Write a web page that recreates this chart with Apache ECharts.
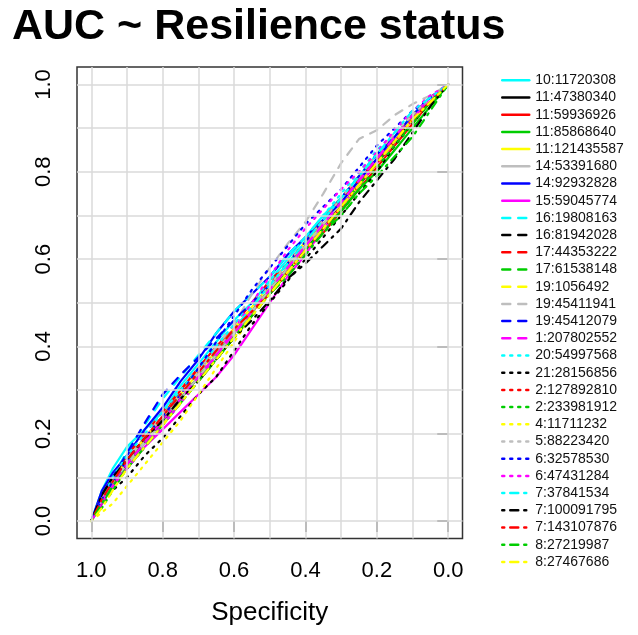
<!DOCTYPE html>
<html>
<head>
<meta charset="utf-8">
<script src="https://cdn.jsdelivr.net/npm/echarts@6/dist/echarts.min.js"></script>
<style>
html,body{margin:0;padding:0;background:#fff;}
#chart{width:638px;height:635px;}
</style>
</head>
<body>
<div id="chart"></div>
<script>
// ---- data ----
const specificity = [1.0,0.97,0.94,0.9,0.85,0.8,0.75,0.7,0.65,0.6,0.55,0.5,0.45,0.4,0.35,0.3,0.25,0.2,0.15,0.1,0.05,0.0];
const markerNames = ["10:11720308","11:47380340","11:59936926","11:85868640","11:121435587","14:53391680","14:92932828","15:59045774",
  "16:19808163","16:81942028","17:44353222","17:61538148","19:1056492","19:45411941","19:45412079","1:207802552",
  "20:54997568","21:28156856","2:127892810","2:233981912","4:11711232","5:88223420","6:32578530","6:47431284",
  "7:37841534","7:100091795","7:143107876","8:27219987","8:27467686"];
const s01 = [0,.07,.12,.17,.21,.25,.31,.36,.41,.46,.50,.55,.60,.65,.70,.74,.79,.84,.88,.93,.97,1];
const s02 = [0,.06,.10,.14,.19,.23,.28,.33,.38,.43,.48,.53,.58,.63,.68,.72,.77,.82,.87,.92,.96,1];
const s03 = [0,.05,.09,.14,.19,.24,.30,.35,.40,.44,.48,.52,.57,.62,.66,.71,.76,.81,.86,.91,.96,1];
const s04 = [0,.04,.08,.13,.18,.23,.28,.33,.38,.43,.48,.53,.57,.62,.67,.71,.76,.80,.85,.90,.95,1];
const s05 = [0,.05,.09,.14,.19,.24,.29,.34,.39,.44,.49,.54,.59,.64,.68,.73,.78,.82,.87,.92,.96,1];
const s06 = [0,.05,.09,.13,.18,.23,.28,.33,.38,.43,.48,.53,.58,.63,.68,.73,.78,.83,.88,.93,.97,1];
const s07 = [0,.07,.11,.15,.21,.26,.32,.37,.43,.48,.52,.56,.61,.65,.69,.73,.78,.83,.88,.93,.97,1];
const s08 = [0,.05,.08,.12,.17,.21,.25,.29,.33,.38,.44,.50,.56,.61,.67,.72,.77,.82,.87,.92,.97,1];
const s09 = [0,.06,.10,.16,.22,.28,.33,.38,.43,.48,.52,.56,.61,.65,.70,.74,.79,.84,.88,.93,.97,1];
const s10 = [0,.05,.08,.13,.18,.23,.28,.32,.37,.42,.47,.52,.57,.62,.67,.72,.77,.82,.87,.92,.96,1];
const s11 = [0,.06,.10,.15,.20,.25,.30,.35,.40,.45,.50,.55,.59,.64,.69,.74,.78,.83,.88,.92,.96,1];
const s12 = [0,.04,.08,.12,.17,.22,.27,.32,.37,.42,.47,.52,.57,.62,.67,.72,.77,.82,.87,.91,.96,1];
const s13 = [0,.05,.09,.14,.19,.24,.29,.34,.39,.44,.49,.54,.59,.64,.69,.74,.79,.84,.88,.93,.97,1];
const s14 = [0,.05,.09,.14,.19,.24,.29,.34,.40,.45,.52,.58,.635,.685,.75,.82,.875,.895,.93,.955,.975,1];
const s15 = [0,.06,.10,.155,.225,.29,.335,.375,.418,.46,.50,.54,.59,.64,.69,.74,.79,.84,.88,.93,.97,1];
const s16 = [0,.04,.08,.13,.18,.23,.28,.33,.38,.43,.48,.53,.58,.63,.68,.73,.78,.83,.88,.93,.97,1];
const s17 = [0,.05,.10,.15,.20,.25,.30,.35,.40,.45,.50,.55,.60,.65,.70,.75,.80,.85,.89,.93,.97,1];
const s18 = [0,.04,.07,.10,.15,.19,.24,.29,.33,.39,.45,.50,.55,.60,.65,.70,.75,.80,.86,.91,.96,1];
const s19 = [0,.05,.09,.14,.19,.24,.29,.34,.39,.44,.49,.54,.59,.64,.69,.74,.79,.84,.89,.93,.97,1];
const s20 = [0,.03,.07,.12,.17,.22,.27,.32,.37,.42,.47,.52,.57,.62,.66,.71,.76,.81,.86,.91,.96,1];
const s21 = [0,.02,.04,.08,.13,.18,.23,.29,.35,.41,.47,.52,.57,.62,.67,.72,.77,.82,.87,.92,.96,1];
const s22 = [0,.05,.09,.14,.19,.24,.29,.34,.39,.44,.49,.54,.59,.64,.69,.74,.79,.84,.89,.93,.97,1];
const s23 = [0,.05,.09,.14,.19,.24,.29,.35,.41,.47,.53,.58,.63,.68,.72,.76,.81,.86,.90,.94,.97,1];
const s24 = [0,.04,.08,.12,.17,.22,.27,.32,.38,.44,.50,.56,.62,.67,.715,.76,.80,.845,.895,.94,.975,1];
const s25 = [0,.05,.09,.14,.19,.24,.29,.34,.39,.44,.49,.54,.59,.64,.69,.74,.79,.84,.89,.94,.97,1];
const s26 = [0,.06,.10,.14,.19,.23,.28,.32,.37,.42,.46,.505,.555,.59,.63,.67,.73,.78,.83,.89,.95,1];
const s27 = [0,.05,.09,.14,.19,.24,.29,.34,.39,.44,.48,.52,.57,.62,.67,.72,.77,.82,.87,.92,.96,1];
const s28 = [0,.04,.08,.12,.17,.22,.27,.32,.37,.42,.47,.52,.56,.61,.66,.70,.75,.79,.835,.88,.94,1];
const s29 = [0,.03,.07,.12,.17,.22,.27,.32,.37,.42,.47,.52,.57,.62,.67,.72,.77,.82,.87,.92,.96,1];
const sensitivitySeries = [s01,s02,s03,s04,s05,s06,s07,s08,s09,s10,s11,s12,s13,s14,s15,s16,s17,s18,s19,s20,s21,s22,s23,s24,s25,s26,s27,s28,s29];
const tickValues = [0,0.2,0.4,0.6,0.8,1.0];
const tickLabels = ["0.0","0.2","0.4","0.6","0.8","1.0"];
const gridValues = [0,0.1,0.2,0.3,0.4,0.5,0.6,0.7,0.8,0.9,1.0];

// ---- styles ----
const palette = ["#00FFFF","#000000","#FF0000","#00CD00","#FFFF00","#BEBEBE","#0000FF","#FF00FF"];
const dashTypes = ["solid",[8,8],[2,6],[2,6,8,6]];
const FONT = "Liberation Sans, Arial, Helvetica, sans-serif";

const chart = echarts.init(document.getElementById('chart'), null, {renderer:'canvas'});

const series = [{
  type:'line', name:'__grid', data:[], z:1, silent:true,
  markLine:{
    silent:true, symbol:['none','none'], label:{show:false}, animation:false,
    lineStyle:{color:'#dadada', type:'solid', width:1.5},
    data: gridValues.map(v=>({xAxis:v})).concat(gridValues.map(v=>({yAxis:v})))
  }
}];
sensitivitySeries.forEach((arr,i)=>{
  series.push({
    type:'line', name:markerNames[i], z:3,
    symbol:'none', showSymbol:false, smooth:false,
    lineStyle:{color:palette[i%8], width:2.2, type:dashTypes[Math.floor(i/8)], cap:'round', join:'round'},
    itemStyle:{color:palette[i%8]},
    emphasis:{disabled:true},
    data: specificity.map((s,j)=>[s, arr[j]])
  });
});

chart.setOption({
  animation:false,
  backgroundColor:'#fff',
  title:{text:'AUC ~ Resilience status', left:12, top:6, padding:0,
    textStyle:{fontSize:43, fontWeight:'bold', color:'#000', fontFamily:FONT}},
  grid:{left:77, right:175.5, top:67, bottom:96.5, show:true, borderColor:'#333', borderWidth:1.5, backgroundColor:'transparent', containLabel:false},
  legend:{
    orient:'vertical', left:496, top:68.3, itemWidth:27, itemHeight:14, itemGap:3.2,
    data: markerNames,
    itemStyle:{color:'transparent', borderColor:'transparent', borderWidth:0, opacity:0},
    lineStyle:{width:2.5},
    textStyle:{fontSize:14, color:'#111', fontFamily:FONT, padding:[0,0,0,1]},
    selectedMode:false
  },
  xAxis:{
    type:'value', inverse:true, min:-0.04, max:1.04,
    name:'Specificity', nameLocation:'middle', nameGap:61,
    nameTextStyle:{fontSize:26, color:'#000', fontFamily:FONT},
    axisLine:{show:false},
    axisTick:{show:true, length:11, customValues:tickValues, lineStyle:{color:'#333', width:1.5}},
    axisLabel:{customValues:tickValues, margin:21, fontSize:22, color:'#000', fontFamily:FONT,
      formatter:(v)=>tickLabels[tickValues.indexOf(Math.round(v*10)/10)] ?? ''},
    splitLine:{show:false}
  },
  yAxis:{
    type:'value', min:-0.04, max:1.04,
    axisLine:{show:false},
    axisTick:{show:true, length:11, customValues:tickValues, lineStyle:{color:'#333', width:1.5}},
    axisLabel:{customValues:tickValues, margin:22, rotate:90, fontSize:22, color:'#000', fontFamily:FONT,
      formatter:(v)=>tickLabels[tickValues.indexOf(Math.round(v*10)/10)] ?? ''},
    splitLine:{show:false}
  },
  series: series
});
</script>
</body>
</html>
